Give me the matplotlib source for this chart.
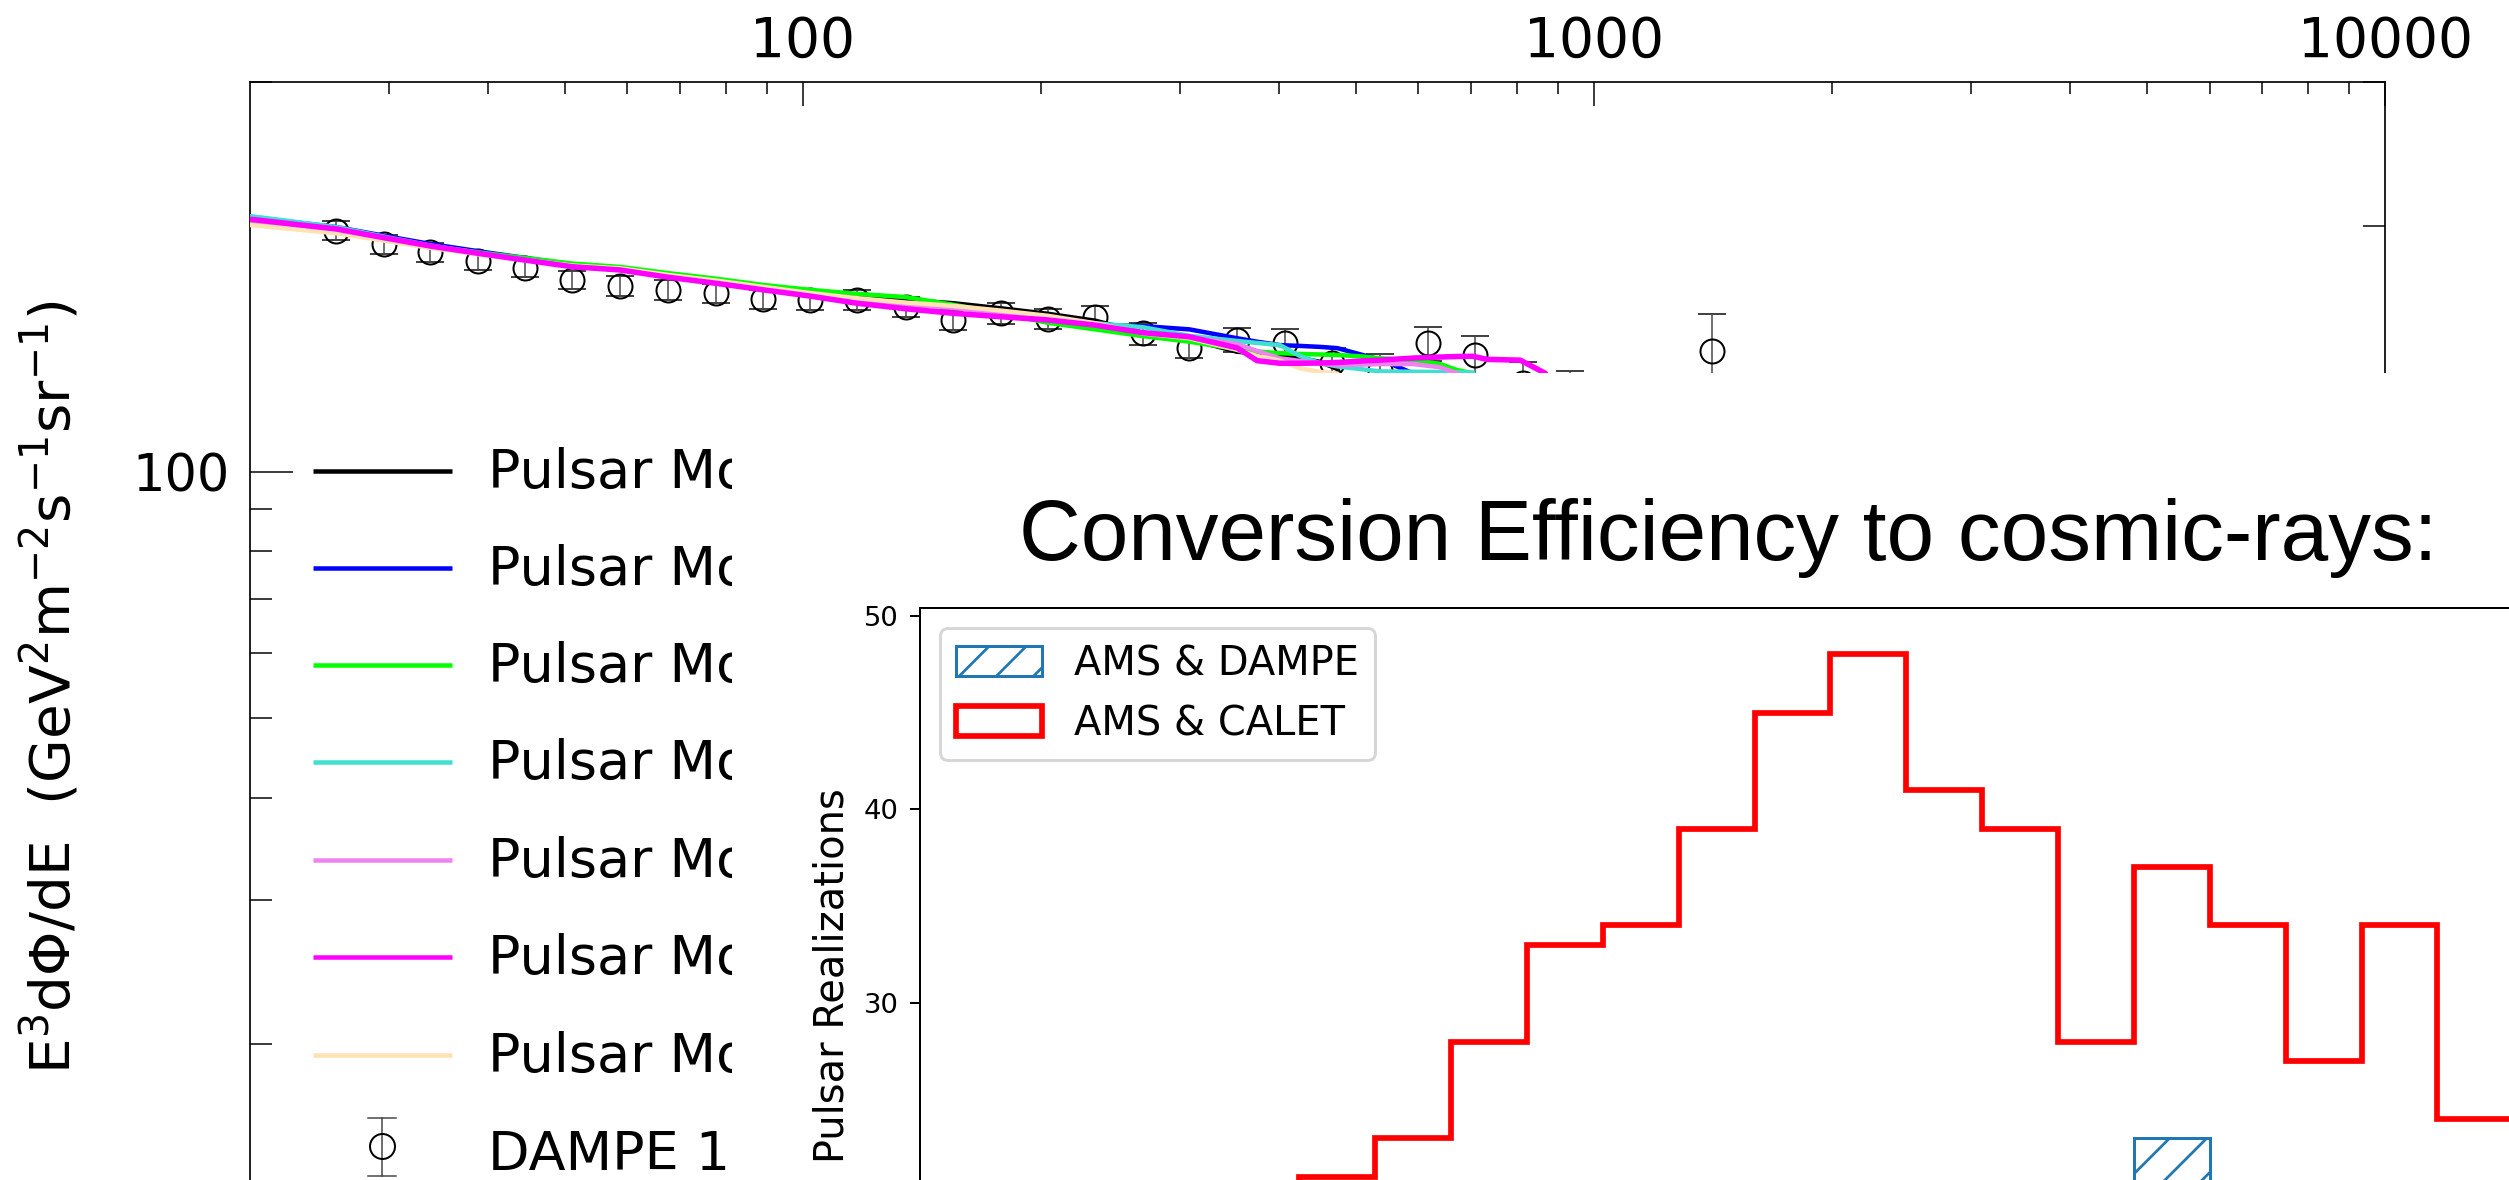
import numpy as np
import matplotlib
matplotlib.use("Agg")
import matplotlib.pyplot as plt
from matplotlib.lines import Line2D
from matplotlib.transforms import Bbox, TransformedBbox

nan = np.nan
W, H, DPI = 2509, 1180, 223


def pt(px):
    return px * 72.0 / DPI


def fx(x):
    return x / W


def fy(y):
    return 1.0 - y / H


# ------------------------------------------------------------------ data
energy = [20, 25.7, 29.5, 33.8, 38.8, 44.5, 51.1, 58.7, 67.6, 77.6, 89, 102, 117,
          135, 155, 178, 204, 234, 269, 308, 354, 375, 401, 425, 451, 474, 510,
          537, 591, 639, 672, 703, 733, 807, 868, 950, 1100]

model1_flux = [204.2, 198.7, 194.1, 189.5, 185.8, 182.4, 179.1, 177.4, 173.9, 171.2,
               168.8, 166.5, 164.1, 162.3, 160.8, 158.5, 156.1, 153.1, 148.0, 145.3,
               140.3, 139.6, 139.0, 137.8, 136.3, 133.6, 110, nan, nan, nan, nan,
               nan, nan, nan, nan, nan, nan]
model2_flux = [204.8, 199.3, 194.5, 190.0, 186.2, 182.7, 179.3, 177.6, 174.0, 171.1,
               167.9, 165.5, 162.7, 160.7, 159.1, 157.0, 154.4, 151.2, 150.8, 149.4,
               145.7, 144.3, 142.9, 142.6, 142.2, 141.7, 139.0, 137.2, 132.0, 110,
               nan, nan, nan, nan, nan, nan, nan]
model3_flux = [202.1, 197.1, 192.8, 188.9, 185.6, 182.7, 179.8, 178.1, 175.0, 172.3,
               169.3, 167.0, 165.1, 163.6, 160.1, 156.3, 152.2, 149.4, 146.6, 144.3,
               141.3, 140.4, 139.7, 139.4, 139.2, 139.0, 138.4, 137.7, 137.1, 135.5,
               133.2, 132.0, 110, nan, nan, nan, nan]
model4_flux = [205.5, 199.3, 194.0, 189.2, 185.3, 181.9, 178.6, 176.8, 173.4, 170.5,
               167.6, 165.1, 162.3, 160.5, 159.3, 157.0, 154.4, 152.0, 150.3, 146.7,
               144.6, 143.8, 142.9, 138.6, 135.8, 134.6, 133.5, 132.7, 132.6, 132.5,
               132.4, 132.3, 110, nan, nan, nan, nan]
model5_flux = [203.0, 197.6, 192.9, 188.6, 185.0, 181.6, 178.6, 176.8, 173.4, 170.5,
               167.6, 165.1, 162.1, 160.1, 158.7, 156.3, 153.7, 151.7, 148.0, 146.1,
               143.4, 140.6, 137.7, 136.7, 135.7, 135.1, 135.3, 135.5, 135.5, 134.3,
               132.0, 110, nan, nan, nan, nan, nan]
model6_flux = [203.7, 198.2, 193.4, 188.9, 185.1, 181.6, 178.2, 176.6, 173.0, 170.1,
               167.0, 164.1, 160.8, 158.3, 156.3, 154.8, 153.4, 151.2, 148.0, 146.3,
               141.8, 136.8, 135.8, 135.8, 135.9, 136.1, 136.7, 137.0, 137.8, 138.2,
               138.4, 138.5, 137.3, 137.0, 132.0, 110, nan]
model7_flux = [200.4, 195.8, 191.8, 187.9, 184.6, 181.6, 178.8, 177.4, 174.1, 171.4,
               168.4, 165.5, 163.1, 161.1, 159.6, 157.5, 155.2, 152.0, 147.7, 145.7,
               141.0, 138.6, 136.8, 133.9, 132.5, 131.9, 110, nan, nan, nan, nan,
               nan, nan, nan, nan, nan, nan]

# legend labels: only "Pulsar Mo" is visible in the reference (the rest is covered)
model_labels = ["Pulsar Mo"] * 7
model_colors = ["#000000", "#0000ff", "#00ff00", "#40e0d0", "#ee82ee", "#ff00ff", "#ffe2b3"]

dampe_energy = [25.7, 29.5, 33.8, 38.8, 44.5, 51.1, 58.7, 67.6, 77.6, 89.0, 102, 117,
                135, 155, 178, 204, 234, 269, 308, 354, 407, 467, 537, 617, 708, 813,
                933, 1070, 1230, 1410]
dampe_flux = [197.3, 189.8, 185.6, 181.2, 177.5, 171.7, 168.9, 167.0, 165.4, 162.7,
              162.3, 162.3, 159.3, 153.4, 156.3, 153.8, 154.8, 147.7, 141.7, 145.0,
              143.9, 135.9, 133.2, 143.6, 139.0, 128.5, 124.2, 112.0, 116.0, 140.6]
dampe_err = [5.1, 4.9, 4.8, 4.7, 4.6, 4.4, 4.6, 4.5, 4.5, 4.4, 4.6, 4.6, 4.5, 4.4, 4.5,
             4.4, 4.6, 4.6, 4.0, 5.0, 5.8, 5.9, 6.1, 7.0, 7.6, 7.8, 8.7, 8.8, 10.6, 15.4]

calet_bin_edges = [5, 6, 7, 8, 9, 10, 11, 12, 13, 14, 15, 16, 17, 18, 19, 20, 21]
ams_calet_counts = [21, 23, 28, 33, 34, 39, 45, 48, 41, 39, 28, 37, 34, 27, 34, 24]
dampe_bin_edges = [16, 17]
ams_dampe_counts = [23]

# ------------------------------------------------------------------ figure
plt.rcParams['font.family'] = ['DejaVu Sans']
plt.rcParams['hatch.linewidth'] = pt(2.7)

fig = plt.figure(figsize=((W + 0.01) / DPI, (H + 0.01) / DPI), dpi=DPI)
fig.patch.set_facecolor('white')

# ---- spectrum panel (IDL style) ----
ax_top, ax_bot, ax_l, ax_r = 81.7, 1290.0, 250.0, 2385.0
ax = fig.add_axes([fx(ax_l), fy(ax_bot), (ax_r - ax_l) / W, (ax_bot - ax_top) / H], zorder=0)
ax.set_xscale('log')
ax.set_yscale('log')

ax.errorbar(dampe_energy, dampe_flux, yerr=dampe_err, fmt='o', ms=pt(24), mfc='none',
            mec='black', mew=pt(2), ecolor='#444444', elinewidth=pt(1.5),
            capsize=pt(14), capthick=pt(1.5), zorder=2)

models = [model1_flux, model2_flux, model3_flux, model4_flux, model5_flux,
          model6_flux, model7_flux]
for i, (flux, col) in enumerate(zip(models, model_colors)):
    lw = pt(5.5) if i == 5 else pt(4.5)
    ax.plot(energy, flux, color=col, lw=lw, zorder=4 if i == 5 else 3,
            solid_capstyle='butt')

ax.set_xlim(20, 10000)
ax.set_ylim(10, 300)

ax.set_xticks([100, 1000, 10000], labels=['100', '1000', '10000'], fontsize=pt(55))
ax.set_xticks([30, 40, 50, 60, 70, 80, 90, 200, 300, 400, 500, 600, 700, 800, 900,
               2000, 3000, 4000, 5000, 6000, 7000, 8000, 9000], minor=True)
ax.set_yticks([100], labels=['100'], fontsize=pt(51))
ax.set_yticks([20, 30, 40, 50, 60, 70, 80, 90, 200, 300], minor=True)
ax.yaxis.set_minor_formatter(plt.NullFormatter())
ax.xaxis.set_minor_formatter(plt.NullFormatter())

ax.tick_params(axis='x', which='both', direction='in', top=True, bottom=True,
               labeltop=True, labelbottom=False, width=pt(1.5), color='black')
ax.tick_params(axis='x', which='major', length=pt(24), pad=pt(13))
ax.tick_params(axis='x', which='minor', length=pt(12))
ax.tick_params(axis='y', which='both', direction='in', left=True, right=True,
               width=pt(1.5), color='black')
ax.tick_params(axis='y', which='major', length=pt(43), pad=pt(20))
ax.tick_params(axis='y', which='minor', length=pt(22))
for s in ax.spines.values():
    s.set_linewidth(pt(1.7))

# y label of the spectrum panel
fig.text(fx(51), fy(687),
         r'E$^3$d$\Phi$/dE  (GeV$^2$m$^{-2}$s$^{-1}$sr$^{-1}$)',
         rotation=90, ha='center', va='center', fontsize=pt(56.5), zorder=0.5)

# region of the spectrum figure that stays visible (left of the pasted figure)
cov_l, cov_t = 732, 373
vis_box = TransformedBbox(Bbox([[0, 0], [fx(cov_l), 1]]), fig.transFigure)

# manual IDL-like legend
leg_rows = [470.6, 567.7, 665.2, 762.2, 860.2, 957.2, 1055.2]
for lab, col, yy in zip(model_labels, model_colors, leg_rows):
    fig.add_artist(Line2D([fx(313), fx(452)], [fy(yy), fy(yy)], color=col,
                          lw=pt(4.5), solid_capstyle='butt', zorder=0.5))
    t = fig.text(fx(488), fy(yy + 17), lab, fontsize=pt(54), va='baseline', zorder=0.5)
    t.set_clip_box(vis_box)
    t.set_clip_on(True)
# DAMPE legend entry
yc = 1146
fig.add_artist(Line2D([fx(382), fx(382)], [fy(1118), fy(1176)], color='#444444',
                      lw=pt(1.5), zorder=0.5))
for ycap in (1118, 1176):
    fig.add_artist(Line2D([fx(368), fx(396)], [fy(ycap), fy(ycap)], color='#444444',
                          lw=pt(1.5), zorder=0.5))
fig.add_artist(Line2D([fx(382)], [fy(yc)], marker='o', ms=pt(25), mfc='none',
                      mec='black', mew=pt(2), zorder=0.5))
fig.text(fx(488), fy(1170), 'DAMPE 1', fontsize=pt(54), va='baseline', zorder=0.5)

# ---- white cover for the pasted second figure ----
cover = fig.add_axes([fx(cov_l), 0, 1 - fx(cov_l), fy(cov_t)], zorder=1)
cover.set_facecolor('white')
cover.set_xticks([])
cover.set_yticks([])
for s in cover.spines.values():
    s.set_visible(False)

# ---- histogram panel ----
h_l, h_t, h_r, h_b = 920.0, 608.0, 2536.0, 1583.7
axh = fig.add_axes([fx(h_l), fy(h_b), (h_r - h_l) / W, (h_b - h_t) / H], zorder=2)
axh.set_facecolor('white')

dampe_centers = [(a + b) / 2 for a, b in zip(dampe_bin_edges[:-1], dampe_bin_edges[1:])]
calet_centers = [(a + b) / 2 for a, b in zip(calet_bin_edges[:-1], calet_bin_edges[1:])]
axh.hist(dampe_centers, bins=dampe_bin_edges, weights=ams_dampe_counts,
         histtype='bar', fill=False, hatch='//', edgecolor='#1f77b4',
         linewidth=pt(3), label='AMS & DAMPE')
axh.hist(calet_centers, bins=calet_bin_edges, weights=ams_calet_counts,
         histtype='step', color='red', linewidth=pt(5.7), label='AMS & CALET')

axh.set_xlim(0, 21.3)
axh.set_ylim(0, 50.4)
axh.set_yticks([30, 40, 50])
axh.tick_params(axis='y', length=pt(10), width=pt(2), pad=pt(11), labelsize=pt(27.4))
axh.tick_params(axis='x', bottom=False, labelbottom=False)
for s in axh.spines.values():
    s.set_linewidth(pt(2))

leg = axh.legend(loc='upper left', fontsize=pt(40), handlelength=2.15,
                 handleheight=0.75, borderaxespad=0.5, framealpha=0.8,
                 edgecolor='0.8')
leg.get_frame().set_linewidth(pt(3))

fig.text(fx(832), fy(976), 'Pulsar Realizations', rotation=90, ha='center',
         va='center', fontsize=pt(40), zorder=3)

fig.text(fx(1728), fy(560), 'Conversion Efficiency to cosmic-rays:', ha='center',
         va='baseline', fontsize=pt(85.5), family=['Liberation Sans', 'DejaVu Sans'],
         zorder=3)

fig.savefig('out.png', dpi=DPI, facecolor='white')
